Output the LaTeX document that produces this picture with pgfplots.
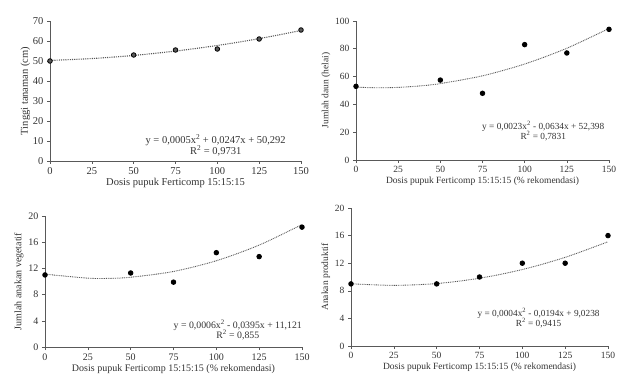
\documentclass[border=0pt]{standalone}
\usepackage{pgfplots}
\pgfplotsset{compat=1.18}
\usepackage{fontspec}
\setmainfont{Liberation Serif}
\definecolor{txt}{HTML}{333333}
\definecolor{axl}{HTML}{595959}
\pgfplotsset{
  panel/.style={
    scale only axis, clip=false, anchor=south west,
    xmin=0, xmax=150,
    axis lines=left, axis line style={axl, line width=0.8pt, -},
    xtick={0,25,50,75,100,125,150},
    tick style={axl, line width=0.6pt},
    major tick length=3pt, tick align=outside,
    ticklabel style={txt},
    label style={txt},
    /pgf/number format/assume math mode=true,
    every axis plot/.append style={line width=0.8pt},
  },
  pts/.style={only marks, mark=*, mark size=2.3pt, draw=none, fill=black},
  trend/.style={no marks, dash pattern=on 1.1pt off 1.1pt, line width=1.1pt, color=axl, smooth},
}
\begin{document}
\begin{tikzpicture}
\path (0pt,0pt) rectangle (643pt,381pt);
% Panel 1
\begin{axis}[panel, at={(50pt,220pt)}, width=251pt, height=140pt,
  ymin=0, ymax=70, ytick={0,10,...,70},
  ticklabel style={font=\fontsize{10.5}{12}\selectfont},
  xlabel={Dosis pupuk Ferticomp 15:15:15},
  ylabel={Tinggi tanaman (cm)},
  label style={font=\fontsize{10.5}{12}\selectfont},
  xlabel style={yshift=3pt}, ylabel style={yshift=-4pt}]
\addplot[trend] coordinates {(0,50.29) (25,51.22) (50,52.78) (75,54.96) (100,57.76) (125,61.19) (150,65.25)};
\addplot[pts, fill=axl] coordinates {(0,50) (50,53) (75,55.5) (100,56) (125,61) (150,65.5)};
\node[txt, font=\fontsize{10.5}{12}\selectfont, align=center] at (rel axis cs:0.66,0.11)
  {y = 0,0005x\textsuperscript{2} + 0,0247x + 50,292\\[-1pt]R\textsuperscript{2} = 0,9731};
\end{axis}
% Panel 2
\begin{axis}[panel, at={(356pt,221pt)}, width=253pt, height=139pt,
  ymin=0, ymax=100, ytick={0,20,...,100},
  ticklabel style={font=\fontsize{9.5}{11}\selectfont},
  xlabel={Dosis pupuk Ferticomp 15:15:15 (\% rekomendasi)},
  ylabel={Jumlah daun (helai)},
  label style={font=\fontsize{9.5}{11}\selectfont},
  xlabel style={yshift=3pt}, ylabel style={yshift=-2pt}]
\addplot[trend, line width=0.9pt, dash pattern=on 0.9pt off 0.9pt] coordinates {(0,52.40) (12.5,51.96) (25,52.25) (37.5,53.25) (50,54.98) (75,60.58) (100,69.06) (125,80.41) (150,94.64)};
\addplot[pts] coordinates {(0,53) (50,57.5) (75,48) (100,83) (125,77) (150,94)};
\node[txt, font=\fontsize{9.3}{11}\selectfont, align=center] at (rel axis cs:0.74,0.21)
  {y = 0,0023x\textsuperscript{2} - 0,0634x + 52,398\\[-1pt]R\textsuperscript{2} = 0,7831};
\end{axis}
% Panel 3
\begin{axis}[panel, at={(45pt,34pt)}, width=257pt, height=131pt,
  ymin=0, ymax=20, ytick={0,4,...,20},
  ticklabel style={font=\fontsize{10}{11}\selectfont},
  xlabel={Dosis pupuk Ferticomp 15:15:15 (\% rekomendasi)},
  ylabel={Jumlah anakan vegetatif},
  label style={font=\fontsize{10}{11}\selectfont},
  xlabel style={yshift=3pt}, ylabel style={yshift=-2pt}]
\addplot[trend, line width=0.9pt, dash pattern=on 0.9pt off 0.9pt] coordinates {(0,11.12) (25,10.51) (37.5,10.48) (50,10.65) (75,11.53) (100,13.17) (125,15.56) (150,18.70)};
\addplot[pts] coordinates {(0,11) (50,11.3) (75,9.9) (100,14.4) (125,13.8) (150,18.3)};
\node[txt, font=\fontsize{9.8}{11}\selectfont, align=center] at (rel axis cs:0.75,0.13)
  {y = 0,0006x\textsuperscript{2} - 0,0395x + 11,121\\[-1pt]R\textsuperscript{2} = 0,855};
\end{axis}
% Panel 4
\begin{axis}[panel, at={(351pt,35pt)}, width=257pt, height=138pt,
  ymin=0, ymax=20, ytick={0,4,...,20},
  ticklabel style={font=\fontsize{9.5}{11}\selectfont},
  xlabel={Dosis pupuk Ferticomp 15:15:15 (\% rekomendasi)},
  ylabel={Anakan produktif},
  label style={font=\fontsize{9.5}{11}\selectfont},
  xlabel style={yshift=3pt}, ylabel style={yshift=-2pt}]
\addplot[trend, line width=0.9pt, dash pattern=on 0.9pt off 0.9pt] coordinates {(0,9.02) (25,8.79) (50,9.05) (75,9.82) (100,11.08) (125,12.85) (150,15.11)};
\addplot[pts] coordinates {(0,9) (50,9) (75,10) (100,12) (125,12) (150,16)};
\node[txt, font=\fontsize{9.3}{11}\selectfont, align=center] at (rel axis cs:0.73,0.20)
  {y = 0,0004x\textsuperscript{2} - 0,0194x + 9,0238\\[-1pt]R\textsuperscript{2} = 0,9415};
\end{axis}
\end{tikzpicture}
\end{document}
